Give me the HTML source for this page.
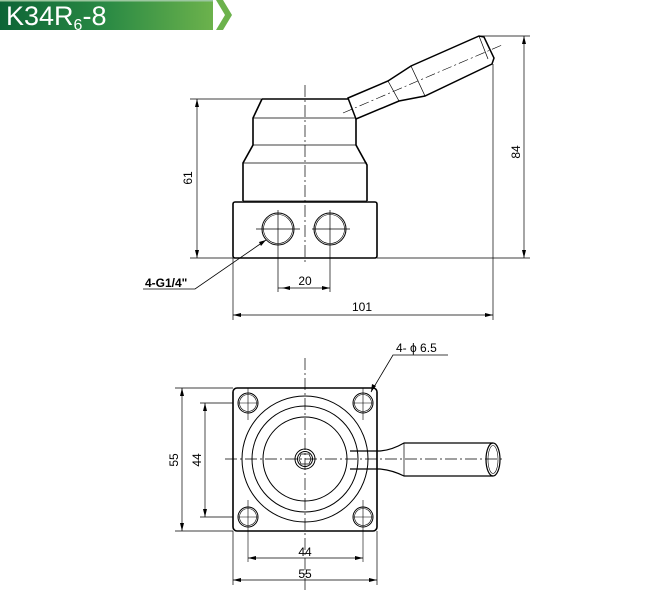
<!DOCTYPE html>
<html><head><meta charset="utf-8"><style>
html,body{margin:0;padding:0;background:#fff;}
svg{display:block;}
text{font-family:"Liberation Sans",sans-serif;fill:#000;}
</style></head><body>
<svg width="660" height="611" viewBox="0 0 660 611" xmlns="http://www.w3.org/2000/svg">
<defs>
<linearGradient id="g" x1="0" x2="1" y1="0" y2="0">
<stop offset="0" stop-color="#0d6436"/><stop offset="0.5" stop-color="#2a8a44"/><stop offset="1" stop-color="#6cb24c"/>
</linearGradient>
</defs>
<rect x="0" y="0" width="213" height="30" fill="url(#g)"/>
<rect x="0" y="0" width="213" height="1.5" fill="#9cc7a0"/>
<polygon points="216,0 223,0 232,15 223,30 216,30 225,15" fill="#6cb24c"/>
<text x="6" y="25" font-size="27" style="fill:#fff">K34R<tspan font-size="16" dy="5">6</tspan><tspan dy="-5">-8</tspan></text>

<g fill="none" stroke="#000" stroke-width="1">
<path d="M262,99 L348,99 M262,99 L253,118 L253,145 L243,163 L243,201 M356,118 L356,145 L367,165 L367,201" stroke-width="1.6"/>
<path d="M253,118 H356 M253,145 H356 M243,163 H367 M243,201 H367" stroke-width="0.8"/>
<rect x="233" y="202" width="144" height="56" rx="2" stroke-width="1.6"/>
<circle cx="278" cy="229" r="16"/><circle cx="278" cy="229" r="14.5" stroke-width="0.6"/>
<circle cx="330" cy="229" r="16"/><circle cx="330" cy="229" r="14.5" stroke-width="0.6"/>
<path d="M278,210 V282 M256,229 H300 M330,210 V282 M312,229 H350" stroke-width="0.7"/>
<path d="M348,98 L388,81 L411,66 L479,36 L484,37 L494,58 L492,64 L425,96 L399,101 L356,119 Z" stroke-width="1.5"/>
<path d="M388,81 L399,101 M411,66 L425,96 M479,36 L488,59" stroke-width="0.7"/>
<path d="M343,113 L502,45" stroke-dasharray="10,3,2,3" stroke-width="0.6"/>
<path d="M305,85 V265" stroke-dasharray="12,3,2,3" stroke-width="0.7"/>
<path d="M190,99 H262 M190,258 H233 M197,99 V258" stroke-width="0.7"/>
<path d="M479,36 H530 M377,258 H530 M524,36 V258" stroke-width="0.7"/>
<path d="M278,282 V292 M330,282 V292 M278,288 H330" stroke-width="0.7"/>
<path d="M233,258 V320 M493,64 V320 M233,315 H493" stroke-width="0.7"/>
<path d="M266,240 L195,289 H143" stroke-width="0.8"/>

<rect x="233" y="388" width="144" height="143" rx="4" stroke-width="1.6"/>
<circle cx="248" cy="403" r="10"/><circle cx="248" cy="403" r="8.5" stroke-width="0.6"/>
<circle cx="363" cy="403" r="10"/><circle cx="363" cy="403" r="8.5" stroke-width="0.6"/>
<circle cx="248" cy="517" r="10"/><circle cx="248" cy="517" r="8.5" stroke-width="0.6"/>
<circle cx="363" cy="517" r="10"/><circle cx="363" cy="517" r="8.5" stroke-width="0.6"/>
<circle cx="305" cy="459" r="63"/>
<circle cx="305" cy="459" r="53"/>
<circle cx="305" cy="459" r="42"/>
<circle cx="305" cy="459" r="10"/><circle cx="305" cy="459" r="7.5"/>
<polygon points="301,454 309,454 311,459 309,464 301,464 299,459" stroke-width="0.7"/>
<path d="M350,451 H380 Q392,450 404,443 H493 M350,469 H380 Q392,470 404,476 H493" stroke-width="1.2"/>
<path d="M404,443 V476" stroke-width="0.7"/>
<ellipse cx="493" cy="459.5" rx="7" ry="16.5" stroke-width="1.2"/>
<ellipse cx="493" cy="459.5" rx="5" ry="14" stroke-width="0.6"/>
<path d="M225,459 H502" stroke-dasharray="12,3,2,3" stroke-width="0.7"/>
<path d="M305,358 V590" stroke-dasharray="12,3,2,3" stroke-width="0.7"/>
<path d="M248,388 V420 M363,388 V420 M238,403 H258 M353,403 H373 M248,500 V562 M363,500 V562 M238,517 H258 M353,517 H373" stroke-width="0.6"/>
<path d="M175,388 H233 M175,531 H233 M182,388 V531" stroke-width="0.7"/>
<path d="M200,403 H233 M200,517 H233 M205,403 V517" stroke-width="0.7"/>
<path d="M248,558 H363" stroke-width="0.7"/>
<path d="M233,531 V585 M377,531 V585 M233,580 H377" stroke-width="0.7"/>
<path d="M371,392 L393,355 H448" stroke-width="0.8"/>
</g>
<g fill="#000">
<polygon points="197,99 195,107 199,107"/><polygon points="197,258 195,250 199,250"/>
<polygon points="524,36 522,44 526,44"/><polygon points="524,258 522,250 526,250"/>
<polygon points="282,288 290,286 290,290"/><polygon points="330,288 322,286 322,290"/>
<polygon points="233,315 241,313 241,317"/><polygon points="493,315 485,313 485,317"/>
<polygon points="266,240 259,242 261,246"/>
<polygon points="182,388 180,396 184,396"/><polygon points="182,531 180,523 184,523"/>
<polygon points="205,403 203,411 207,411"/><polygon points="205,517 203,509 207,509"/>
<polygon points="248,558 256,556 256,560"/><polygon points="363,558 355,556 355,560"/>
<polygon points="233,580 241,578 241,582"/><polygon points="377,580 369,578 369,582"/>
<polygon points="371,392 372,384 376,386"/>
</g>
<text x="0" y="0" font-size="12" text-anchor="middle" transform="translate(192,178) rotate(-90)">61</text>
<text x="0" y="0" font-size="12" text-anchor="middle" transform="translate(520,152) rotate(-90)">84</text>
<text x="305" y="285" font-size="12" text-anchor="middle">20</text>
<text x="362" y="311" font-size="12" text-anchor="middle">101</text>
<text x="145" y="287" font-size="12" font-weight="bold">4-G1/4"</text>
<text x="396" y="352" font-size="12">4- ϕ 6.5</text>
<text x="0" y="0" font-size="12" text-anchor="middle" transform="translate(178,460) rotate(-90)">55</text>
<text x="0" y="0" font-size="12" text-anchor="middle" transform="translate(201,460) rotate(-90)">44</text>
<text x="305" y="556" font-size="12" text-anchor="middle">44</text>
<text x="305" y="578" font-size="12" text-anchor="middle">55</text>
</svg>
</body></html>
